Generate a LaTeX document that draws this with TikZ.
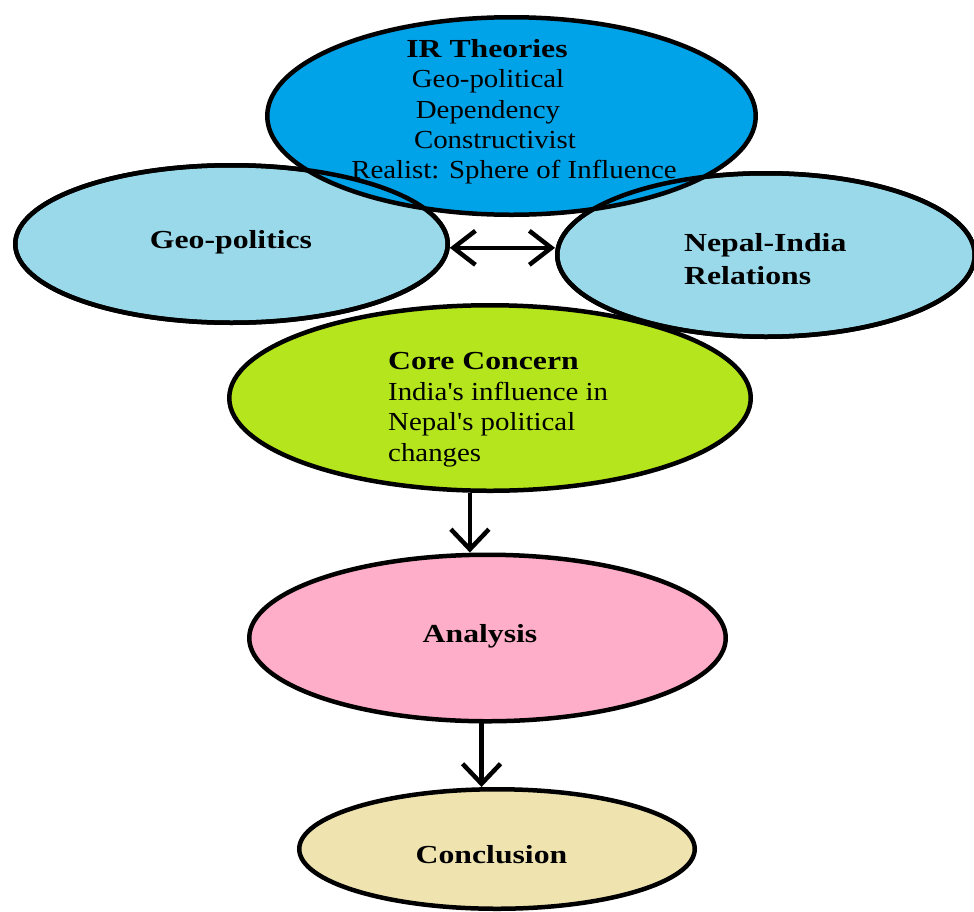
\documentclass[tikz,border=0pt]{standalone}
\usepackage{fontspec}
\setmainfont{Liberation Serif}
\newfontfamily\regf{Liberation Serif}[FakeStretch=1.11]
\newfontfamily\boldf{Liberation Serif}[FakeStretch=1.22]
\usetikzlibrary{shapes.geometric, arrows.meta, calc}
\definecolor{irblue}{RGB}{0,162,232}
\definecolor{ltblue}{RGB}{153,217,234}
\definecolor{limeg}{RGB}{181,230,29}
\definecolor{pinkc}{RGB}{255,174,201}
\definecolor{tanc}{RGB}{239,228,176}
\begin{document}
\begin{tikzpicture}[x=1pt,y=-1pt,
  ell/.style={ellipse, inner sep=0pt, line width=4.5pt, draw=black},
  ring/.style={line width=4.5pt, draw=black},
  txt/.style={inner sep=0pt, font=\regf\fontsize{26}{30}\selectfont, text=black},
  btxt/.style={inner sep=0pt, font=\boldf\bfseries\fontsize{26}{30}\selectfont, text=black},
  arr/.style={line width=4.5pt, -{Straight Barb[length=20pt,width=38pt]}},
  arrtwo/.style={line width=4.5pt, {Straight Barb[length=22pt,width=34pt]}-{Straight Barb[length=22pt,width=34pt]}}
]
\useasboundingbox (0,0) rectangle (974,911);
\fill[white] (0,0) rectangle (974,911);

% side ellipses and core
\node[ell, fill=ltblue, minimum width=432.5pt, minimum height=157.5pt] (geo) at (231.5,244) {};
\node[ell, fill=ltblue, minimum width=417.5pt, minimum height=163.5pt] (nep) at (766,255) {};
\node[ell, fill=limeg, minimum width=521.5pt, minimum height=185.5pt] (core) at (490,398) {};
% IR theories on top
\node[ell, fill=irblue, minimum width=488.5pt, minimum height=197.5pt] (ir) at (511.5,116) {};
% outlines of side ellipses visible over IR fill
\draw[ring] (geo.center) ellipse [x radius=216.25pt, y radius=78.75pt];
\draw[ring] (nep.center) ellipse [x radius=208.75pt, y radius=81.75pt];

\node[ell, fill=pinkc, minimum width=476.5pt, minimum height=166.5pt] (ana) at (487.5,638) {};
\node[ell, fill=tanc, minimum width=395.5pt, minimum height=119.5pt] (conc) at (497,849) {};

% connectors
\draw[arrtwo] (geo.-1.3) -- (geo.-1.3 -| nep.west);
\draw[arr] (core.258) -- (core.258 |- ana.north);
\draw[arr] (ana.266) -- (ana.266 |- conc.north);

% texts
\node[btxt, anchor=base] (t1) at (487,57) {IR Theories};
\node[txt, anchor=base] (t2) at (488,87) {Geo-political};
\node[txt, anchor=base] (t3) at (488,118) {Dependency};
\node[txt, anchor=base] (t4) at (495,148) {Constructivist};
\node[txt, anchor=base] (t5) at (514,178) {Realist: Sphere of Influence};
\node[btxt, anchor=base] (t6) at (231,248) {Geo-politics};
\node[btxt, anchor=base west] (t7) at (684,251) {Nepal-India};
\node[btxt, anchor=base west] (t8) at (684,284) {Relations};
\node[btxt, anchor=base west] (t9) at (388,369) {Core Concern};
\node[txt, anchor=base west] (t10) at (388,400) {India's influence in};
\node[txt, anchor=base west] (t11) at (388,430) {Nepal's political};
\node[txt, anchor=base west] (t12) at (388,461) {changes};
\node[btxt, anchor=base] (t13) at (480,642) {Analysis};
\node[btxt, anchor=base] (t14) at (491.5,863) {Conclusion};
\end{tikzpicture}
\end{document}
